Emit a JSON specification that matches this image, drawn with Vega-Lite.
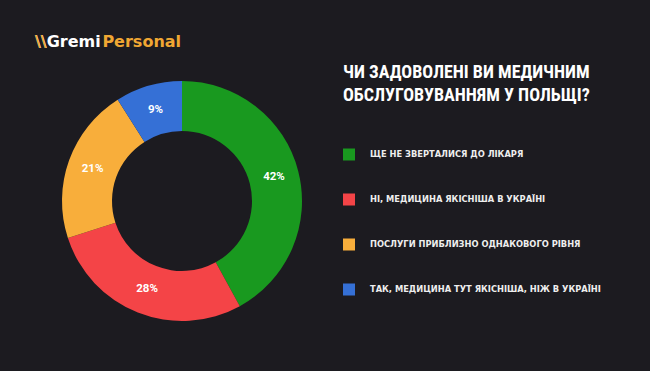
{
  "$schema": "https://vega.github.io/schema/vega-lite/v6.json",
  "width": 262,
  "height": 262,
  "autosize": "none",
  "padding": {"left": 51, "top": 70, "right": 337, "bottom": 39},
  "background": "#1c1b20",
  "title": {
    "text": "\\\\Gremi",
    "subtitle": "\\\\\u00a0\u00a0\u00a0\u00a0\u00a0\u00a0\u00a0\u00a0\u00a0\u00a0Personal",
    "anchor": "start",
    "frame": "group",
    "dx": -16,
    "offset": 14,
    "font": "DejaVu Sans",
    "fontSize": 16,
    "fontWeight": "bold",
    "color": "#ffffff",
    "subtitleFont": "DejaVu Sans",
    "subtitleFontSize": 16,
    "subtitleFontWeight": "bold",
    "subtitleColor": "#f0a733",
    "subtitlePadding": -16
  },
  "data": {
    "values": [
      {"answer": "ЩЕ НЕ ЗВЕРТАЛИСЯ ДО ЛІКАРЯ", "pct": 42, "label": "42%"},
      {"answer": "НІ, МЕДИЦИНА ЯКІСНІША В УКРАЇНІ", "pct": 28, "label": "28%"},
      {"answer": "ПОСЛУГИ ПРИБЛИЗНО ОДНАКОВОГО РІВНЯ", "pct": 21, "label": "21%"},
      {"answer": "ТАК, МЕДИЦИНА ТУТ ЯКІСНІША, НІЖ В УКРАЇНІ", "pct": 9, "label": "9%"}
    ]
  },
  "layer": [
    {
      "mark": {"type": "arc", "radius": 120, "innerRadius": 70},
      "encoding": {
        "theta": {"field": "pct", "type": "quantitative", "stack": true},
        "order": {"field": "pct", "sort": "descending"},
        "color": {
          "field": "answer",
          "type": "nominal",
          "sort": null,
          "scale": {
            "domain": ["ЩЕ НЕ ЗВЕРТАЛИСЯ ДО ЛІКАРЯ", "НІ, МЕДИЦИНА ЯКІСНІША В УКРАЇНІ", "ПОСЛУГИ ПРИБЛИЗНО ОДНАКОВОГО РІВНЯ", "ТАК, МЕДИЦИНА ТУТ ЯКІСНІША, НІЖ В УКРАЇНІ"],
            "range": ["#19991f", "#f44447", "#f8ae3b", "#3570d6"]
          },
          "legend": {
            "orient": "none",
            "legendX": 292,
            "legendY": -6,
            "title": ["ЧИ ЗАДОВОЛЕНІ ВИ МЕДИЧНИМ", "ОБСЛУГОВУВАННЯМ У ПОЛЬЩІ?"],
            "titleFont": "Noto Sans ExtraCondensed, Noto Sans Condensed, Roboto Condensed, DejaVu Sans Condensed, Liberation Sans Narrow, Open Sans Condensed, sans-serif",
            "titleFontSize": 18,
            "titleFontWeight": "bold",
            "titleColor": "#ffffff",
            "titleLineHeight": 22.5,
            "titlePadding": 44,
            "titleLimit": 500,
            "symbolType": "square",
            "symbolSize": 144,
            "symbolStrokeWidth": 0,
            "symbolOpacity": 1,
            "labelFont": "DejaVu Sans",
            "labelFontWeight": "bold",
            "labelFontSize": 8.3,
            "labelColor": "#eeeeee",
            "labelOffset": 15,
            "labelLimit": 500,
            "rowPadding": 33
          }
        }
      }
    },
    {
      "mark": {"type": "text", "radius": 95, "font": "Roboto", "fontWeight": "bold", "fontSize": 11.5, "color": "#ffffff"},
      "encoding": {
        "theta": {"field": "pct", "type": "quantitative", "stack": true},
        "order": {"field": "pct", "sort": "descending"},
        "text": {"field": "label"}
      }
    }
  ],
  "config": {"view": {"stroke": null}}
}
